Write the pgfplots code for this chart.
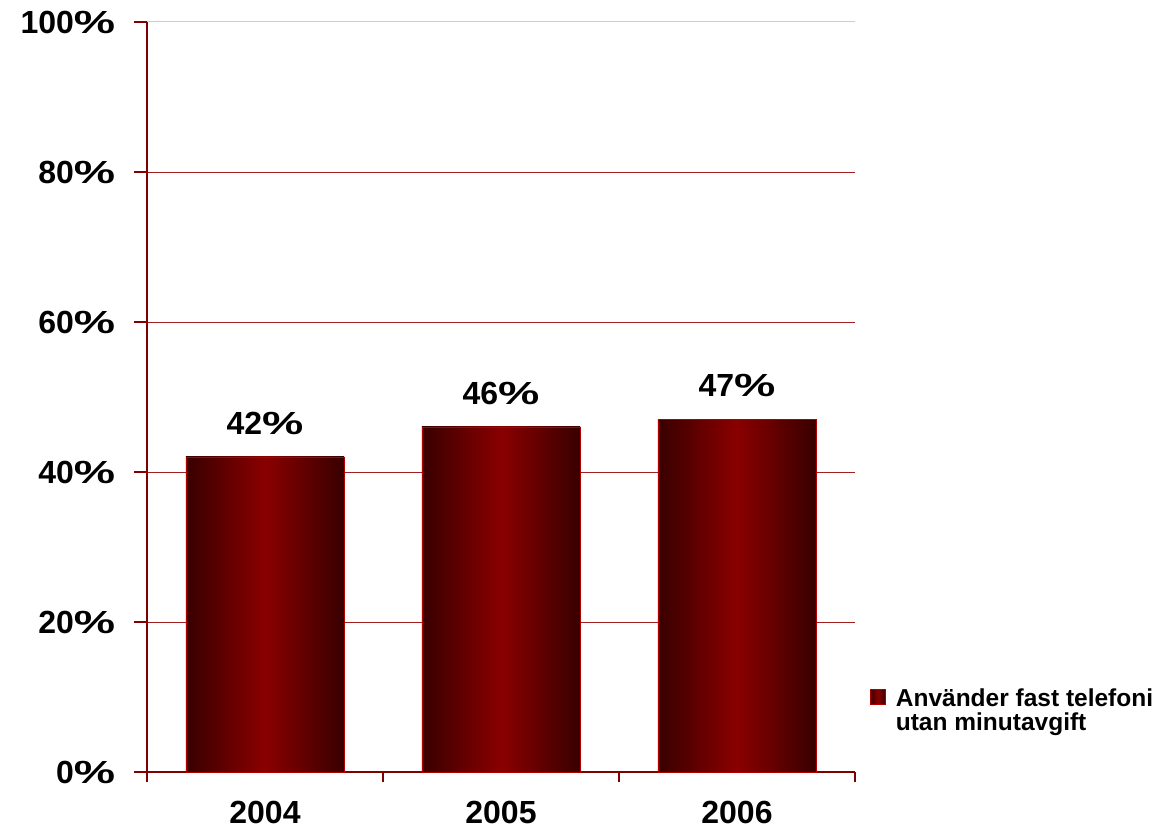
\documentclass[border=0pt]{standalone}
\usepackage{pgfplots}
\pgfplotsset{compat=1.18}
\usepackage{graphicx}
\usepackage{fontspec}
\setmainfont{Liberation Sans}
\definecolor{axred}{HTML}{800000}
\definecolor{bardark}{HTML}{380000}
\definecolor{barmid}{HTML}{8A0000}
\definecolor{gridred}{HTML}{A02020}
\newcommand{\pc}{\scalebox{1.45}[1]{\%}}
\begin{document}
\begin{tikzpicture}
\useasboundingbox (-147bp,-56bp) rectangle (1013bp,772bp);
\begin{axis}[
  at={(0,0)}, anchor=south west,
  scale only axis,
  width=708bp, height=750bp,
  xmin=-0.5, xmax=2.5,
  ymin=0, ymax=100,
  axis x line*=bottom, axis y line*=left,
  axis line style={color=axred, line width=2.2bp},
  every tick/.style={color=axred, line width=2bp},
  tick align=outside,
  xtick={-0.5,0.5,1.5,2.5},
  x tick label as interval,
  xticklabels={2004,2005,2006},
  xtick style={/pgfplots/major tick length=10bp},
  ytick={0,20,...,80},
  extra y ticks={100},
  extra y tick style={ymajorgrids=false},
  ytick style={/pgfplots/major tick length=13bp},
  yticklabel={\pgfmathprintnumber{\tick}\pc},
  /pgf/number format/assume math mode=true,
  ticklabel style={font=\fontsize{32bp}{36bp}\selectfont\bfseries},
  yticklabel style={xshift=-24bp},
  xticklabel style={yshift=-21bp},
  ymajorgrids,
  grid style={color=gridred, line width=0.9bp},
  ybar, bar width=0.67, bar shift=0pt,
  nodes near coords={\pgfmathprintnumber{\pgfplotspointmeta}\pc},
  nodes near coords style={font=\fontsize{32bp}{36bp}\selectfont\bfseries, inner sep=0pt, yshift=22bp, color=black},
  legend style={at={(rel axis cs:1.021,0.117)}, anchor=north west, draw=none, fill=none, inner sep=0pt,
     column sep=8bp,
     font=\fontsize{24.5bp}{28bp}\selectfont\bfseries, cells={anchor=west}},
  legend image code/.code={\fill[left color=bardark, right color=bardark, middle color=barmid] (0bp,-7.5bp) rectangle (15bp,7.5bp);},
  clip=false,
]
\addplot[draw=red!70!black, line width=0.8bp, left color=bardark, right color=bardark, middle color=barmid]
  coordinates {(0,42)};
\addlegendentry{\begin{tabular}[t]{@{}l@{}}Använder fast telefoni\\[-3.5bp]utan minutavgift\end{tabular}}
\addplot[forget plot, draw=red!70!black, line width=0.8bp, left color=bardark, right color=bardark, middle color=barmid]
  coordinates {(1,46)};
\addplot[forget plot, draw=red!70!black, line width=0.8bp, left color=bardark, right color=bardark, middle color=barmid]
  coordinates {(2,47)};
\draw[color=red!28, line width=1bp] (rel axis cs:0,1) -- (rel axis cs:1,1);
\end{axis}
\end{tikzpicture}
\end{document}
